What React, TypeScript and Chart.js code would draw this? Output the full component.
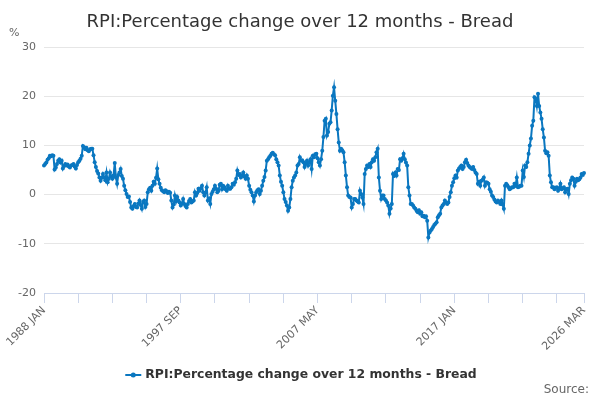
import React, { useEffect, useRef } from "react";
import { Chart, registerables } from "chart.js";

Chart.register(...registerables);

const TITLE = "RPI:Percentage change over 12 months - Bread";
const SERIES_NAME = "RPI:Percentage change over 12 months - Bread";
const UNIT_LABEL = "%";
const SOURCE_LABEL = "Source:";
const START_YEAR = 1988;
const MONTH_NAMES = ["JAN", "FEB", "MAR", "APR", "MAY", "JUN", "JUL", "AUG", "SEP", "OCT", "NOV", "DEC"];
const Y_MIN = -20;
const Y_MAX = 30;
const Y_STEP = 10;
const TICK_MARK_EVERY = 29;
const LABEL_EVERY = 116;

// Monthly values, % change over 12 months
const vals1988to1997 = [
  5.9, 6.2, 6.5, 7.1, 7.4, 7.9, 7.8, 8.0, 7.9, 5.1, 5.5, 6.2,
  6.9, 7.2, 6.5, 6.9, 5.3, 5.8, 6.2, 5.9, 6.1, 5.7, 5.5, 5.9,
  6.0, 6.2, 5.7, 5.3, 6.0, 6.6, 6.9, 7.3, 7.9, 9.9, 9.6, 9.2,
  9.5, 9.0, 8.8, 9.2, 9.3, 9.3, 8.0, 6.6, 5.6, 4.8, 4.3, 3.5,
  2.8, 3.4, 4.2, 3.5, 2.9, 4.5, 2.5, 3.2, 4.5, 3.7, 3.2, 3.9,
  6.4, 3.5, 2.2, 4.0, 4.5, 5.2, 3.8, 3.2, 1.8, 0.9, 0.1, -0.5,
  -0.4, -1.5, -2.6, -2.9, -2.3, -1.9, -2.5, -2.6, -1.8, -1.2, -2.1, -2.9,
  -1.5, -1.2, -2.5, -1.9, 0.5, 1.1, 1.4, 0.8, 1.8, 2.6, 2.2, 3.4,
  5.3, 3.1, 2.2, 1.4, 0.9, 0.7, 0.5, 0.9, 0.7, 0.3, 0.6, 0.4,
  -1.2, -2.6, -2.0, -0.2, -1.4, -0.5, -1.2, -1.6, -2.2, -1.8, -0.9, -1.9,
];
const vals1998to2007 = [
  -2.3, -2.6, -1.9, -1.3, -0.9, -1.6, -1.4, -1.2, 0.5, -0.2, 0.3, 1.2,
  0.8, 1.3, 1.8, 0.5, -0.2, 0.4, 1.5, -1.2, -0.8, -1.9, 0.1, 0.6,
  1.1, 1.8, 1.2, 0.5, 0.8, 2.0, 2.2, 1.1, 1.8, 1.5, 1.1, 0.8,
  1.8, 1.2, 1.2, 1.5, 2.2, 2.0, 2.5, 3.2, 4.9, 4.0, 4.2, 3.5,
  3.9, 4.5, 3.7, 3.2, 3.9, 3.2, 1.8, 1.0, 0.5, -0.2, -1.4, -0.2,
  0.5, 0.9, 1.1, 0.1, 0.8, 1.8, 2.8, 3.6, 4.9, 6.9, 7.2, 7.6,
  7.9, 8.3, 8.5, 8.2, 8.0, 7.2, 6.6, 5.9, 3.9, 2.6, 1.8, 0.5,
  -0.9, -1.5, -2.2, -3.3, -2.6, -0.9, 1.5, 2.8, 3.5, 3.9, 4.5, 5.9,
  6.2, 7.6, 6.9, 7.0, 6.6, 5.6, 6.3, 6.9, 5.9, 6.6, 7.2, 5.2,
  7.9, 7.6, 8.2, 8.3, 7.4, 6.6, 5.9, 7.2, 8.9, 11.7, 15.0, 15.4,
];
const vals2008to2017 = [
  12.0, 12.7, 14.4, 14.7, 17.1, 20.1, 21.8, 19.1, 16.4, 13.3, 10.6, 8.9,
  9.3, 9.0, 8.6, 6.6, 3.9, 1.5, -0.2, -0.5, -0.6, -2.6, -1.9, -0.9,
  -0.9, -1.2, -1.4, -1.6, 0.8, 0.1, -0.6, -1.9, 4.2, 5.2, 5.9, 5.6,
  6.2, 5.6, 6.6, 7.2, 6.9, 7.6, 8.6, 9.3, 3.5, 0.8, -0.9, -0.2,
  -0.2, -0.9, -1.2, -1.6, -2.2, -3.9, -2.8, -1.9, 4.2, 3.8, 4.5, 3.9,
  5.2, 5.0, 7.2, 6.9, 7.4, 8.3, 7.2, 6.5, 5.9, 1.5, -0.2, -1.9,
  -1.9, -2.2, -2.6, -2.9, -3.3, -3.6, -3.2, -3.9, -3.6, -4.4, -4.3, -4.6,
  -4.4, -5.3, -8.7, -7.7, -7.3, -7.0, -6.6, -6.2, -5.9, -5.6, -4.6, -4.2,
  -3.9, -2.6, -2.2, -1.9, -1.2, -1.6, -1.9, -1.6, -0.5, 0.5, 1.8, 2.5,
  3.3, 3.9, 3.5, 4.9, 5.3, 5.6, 5.9, 5.2, 5.6, 6.6, 7.1, 6.4,
];
const vals2018to2026 = [
  5.9, 5.6, 5.4, 5.2, 5.6, 5.0, 4.5, 4.2, 2.2, 2.6, 1.8, 2.8,
  3.0, 3.5, 1.8, 2.5, 2.4, 2.2, 1.1, 0.6, -0.2, -0.5, -1.0, -1.4,
  -1.6, -1.2, -1.5, -1.9, -1.2, -2.0, -2.9, 1.8, 2.2, 1.9, 1.5, 1.1,
  1.3, 1.5, 1.5, 2.2, 1.8, 3.5, 1.5, 1.6, 1.8, 1.8, 4.9, 3.6,
  5.9, 5.6, 6.6, 8.3, 10.0, 11.4, 14.0, 15.0, 19.8, 19.5, 18.0, 20.5,
  18.0, 16.7, 15.4, 13.3, 11.6, 8.9, 8.4, 8.6, 7.9, 3.9, 2.5, 1.5,
  1.5, 1.1, 1.4, 1.5, 0.8, 1.3, 2.2, 1.1, 1.3, 1.5, 0.5, 1.1,
  1.2, 0.1, 2.2, 2.9, 3.5, 3.2, 1.8, 2.6, 3.2, 2.9, 3.1, 3.5,
  4.2, 4.0, 4.4,
];

const seriesValues = [...vals1988to1997, ...vals1998to2007, ...vals2008to2017, ...vals2018to2026];
const monthLabels = seriesValues.map(
  (_, i) => `${START_YEAR + Math.floor(i / 12)} ${MONTH_NAMES[i % 12]}`
);

const LINE_COLOR = "#0a77c0";
const FONT = '"DejaVu Sans", Verdana, sans-serif';

const textPlugin = {
  id: "extraTexts",
  afterDraw(chart: any) {
    const ctx = chart.ctx as CanvasRenderingContext2D;
    ctx.save();
    // Title
    ctx.fillStyle = "#333333";
    ctx.font = `18px ${FONT}`;
    ctx.textAlign = "center";
    ctx.textBaseline = "alphabetic";
    ctx.fillText(TITLE, 300, 27);
    // Unit
    ctx.fillStyle = "#666666";
    ctx.font = `11px ${FONT}`;
    ctx.textAlign = "left";
    ctx.fillText(UNIT_LABEL, 9, 36);
    // Legend
    ctx.font = `bold 12.4px ${FONT}`;
    const tw = ctx.measureText(SERIES_NAME).width;
    const symW = 16;
    const gap = 4;
    const total = symW + gap + tw;
    const lx = 301 - total / 2;
    const ly = 375;
    ctx.strokeStyle = LINE_COLOR;
    ctx.lineWidth = 2;
    ctx.beginPath();
    ctx.moveTo(lx, ly);
    ctx.lineTo(lx + symW, ly);
    ctx.stroke();
    ctx.fillStyle = LINE_COLOR;
    ctx.beginPath();
    ctx.arc(lx + symW / 2, ly, 2.5, 0, Math.PI * 2);
    ctx.fill();
    ctx.fillStyle = "#333333";
    ctx.textBaseline = "middle";
    ctx.fillText(SERIES_NAME, lx + symW + gap, ly);
    // Source
    ctx.font = `12px ${FONT}`;
    ctx.fillStyle = "#666666";
    ctx.textAlign = "right";
    ctx.fillText(SOURCE_LABEL, 589, 390);
    ctx.restore();
  },
};

export default function App() {
  const canvasRef = useRef<HTMLCanvasElement | null>(null);

  useEffect(() => {
    if (!canvasRef.current) return;
    Chart.defaults.font.family = FONT;
    const lastIdx = seriesValues.length - 1;
    const chart = new Chart(canvasRef.current, {
      type: "line",
      data: {
        labels: monthLabels,
        datasets: [
          {
            label: SERIES_NAME,
            data: seriesValues,
            borderColor: LINE_COLOR,
            backgroundColor: LINE_COLOR,
            borderWidth: 2,
            pointRadius: 2,
            pointBorderWidth: 0,
            pointBackgroundColor: LINE_COLOR,
            tension: 0,
          },
        ],
      },
      options: {
        responsive: false,
        animation: false,
        layout: { padding: { top: 47, right: 16, left: 0, bottom: 0 } },
        plugins: {
          legend: { display: false },
          title: { display: false },
          tooltip: { enabled: false },
        },
        scales: {
          x: {
            type: "category",
            offset: false,
            grid: {
              drawOnChartArea: false,
              drawTicks: true,
              tickLength: 10,
              color: (c: any) =>
                c.index % TICK_MARK_EVERY === 0 || c.index === lastIdx ? "#ccd6eb" : "rgba(0,0,0,0)",
            },
            border: { display: true, color: "#ccd6eb", width: 1 },
            ticks: {
              autoSkip: false,
              minRotation: 45,
              maxRotation: 45,
              padding: 1,
              color: "#666666",
              font: { size: 11, family: FONT },
              callback: (_v: any, i: number) =>
                i % LABEL_EVERY === 0 || i === lastIdx ? monthLabels[i] : "",
            },
            afterFit: (scale: any) => {
              scale.height = 107;
            },
          },
          y: {
            min: Y_MIN,
            max: Y_MAX,
            grid: { color: "#e6e6e6", drawTicks: false },
            border: { display: false },
            ticks: {
              stepSize: Y_STEP,
              padding: 8,
              color: "#666666",
              font: { size: 11, family: FONT },
            },
            afterFit: (scale: any) => {
              scale.width = 44;
            },
          },
        },
      },
      plugins: [textPlugin],
    });
    return () => chart.destroy();
  }, []);

  return (
    <div style={{ position: "absolute", left: 0, top: 0, width: 600, height: 400, background: "#fff" }}>
      <canvas ref={canvasRef} width={600} height={400} />
    </div>
  );
}
